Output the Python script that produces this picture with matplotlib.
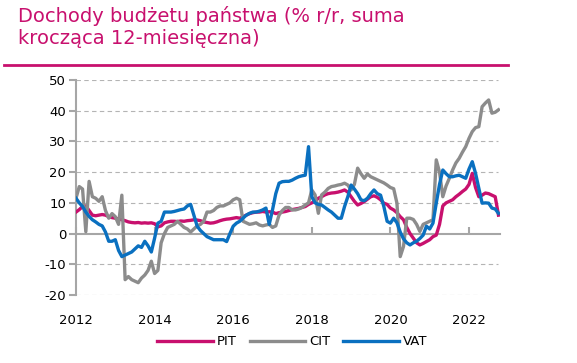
import numpy as np
import matplotlib.pyplot as plt

plt.rcParams['axes.unicode_minus'] = False

# monthly data, Jan 2012 - Oct 2022 (% y/y, 12-month rolling sum)
pit = [7.0, 7.8, 8.8, 9.0, 7.5, 6.0, 5.8, 6.0, 6.2, 6.0, 5.5, 5.2,
       5.0, 4.8, 4.5, 4.2, 3.8, 3.6, 3.5, 3.6, 3.4, 3.5, 3.4, 3.5,
       3.2, 2.2, 2.5, 3.5, 3.8, 4.0, 4.0, 3.9, 4.1, 4.0, 4.2, 4.3,
       4.5, 4.4, 4.2, 3.8, 3.6, 3.4, 3.5, 3.8, 4.2, 4.5, 4.7, 4.8,
       5.0, 5.2, 5.0, 5.5, 6.0, 6.5, 6.8, 7.0, 7.0, 7.2, 7.0, 7.1,
       7.0, 6.5, 6.8, 7.0, 7.2, 7.5, 7.8, 8.0, 8.2, 8.5, 8.8, 9.5,
       10.0, 10.6, 11.5, 12.0, 12.6, 13.0, 13.2, 13.3, 13.5, 13.8, 14.2, 13.5,
       12.0, 10.5, 9.3, 9.8, 10.4, 11.2, 12.0, 12.3, 11.8, 11.0, 9.9, 9.5,
       8.3, 7.7, 6.8, 5.5, 4.5, 2.0, 0.0, -1.5, -3.0, -3.7, -3.2, -2.6,
       -2.0, -1.0, -0.5, 3.0, 9.0, 10.0, 10.5, 11.0, 12.0, 12.8, 13.7, 14.5,
       16.0, 19.6, 15.0, 12.0, 12.5, 13.2, 13.0, 12.5, 12.0, 6.0]

cit = [11.5, 15.3, 14.5, 0.6, 17.0, 12.0, 11.5, 10.5, 12.0, 7.5, 5.0, 6.5,
       5.5, 3.0, 12.5, -15.0, -14.0, -15.0, -15.5, -16.0, -14.5, -13.5, -12.0, -9.0,
       -13.0, -12.0, -3.0, 0.0, 2.0, 2.5, 3.0, 4.0, 3.0, 2.0, 1.5, 0.5,
       1.5, 2.5, 3.0, 4.0, 7.0, 7.0, 7.5, 8.5, 9.0, 9.0, 9.5, 10.0,
       11.0, 11.5, 11.0, 4.0, 3.5, 3.0, 3.2, 3.5, 2.8, 2.5, 2.8, 3.0,
       2.0, 2.5, 6.0, 7.5, 8.5, 8.5, 7.7, 7.7, 8.0, 8.5, 9.3, 10.0,
       14.2, 12.6, 6.6, 12.6, 13.5, 14.7, 15.3, 15.5, 15.8, 16.0, 16.4, 15.8,
       14.2, 16.0, 21.3, 19.5, 18.0, 19.4, 18.5, 18.0, 17.5, 17.0, 16.5, 15.8,
       15.0, 14.6, 9.9, -7.5, -4.2, 5.0, 5.0, 4.6, 3.0, 0.7, 3.0, 3.5,
       4.0, 4.5, 24.0, 20.0, 12.0, 15.5, 18.0, 20.7, 23.0, 24.5, 26.5, 28.3,
       31.0, 33.2, 34.5, 34.8, 41.3, 42.5, 43.5, 39.2, 39.5, 40.3]

vat = [11.5, 10.0, 8.8, 7.0, 5.6, 4.5, 3.8, 3.0, 2.5, 0.5, -2.5, -2.5,
       -2.0, -5.5, -7.5, -7.0, -6.5, -6.0, -5.0, -4.0, -4.5, -2.5, -4.0, -6.0,
       -1.5, 3.4, 4.0, 7.0, 7.0, 7.0, 7.2, 7.5, 7.8, 8.0, 9.0, 9.5,
       6.0, 2.4, 1.0, 0.0, -1.0, -1.5, -2.0, -2.0, -2.0, -2.0, -2.6, 0.0,
       2.4, 3.4, 4.0, 5.0, 6.0, 6.6, 7.0, 7.0, 7.3, 7.7, 8.3, 3.0,
       7.7, 13.0, 16.4, 16.9, 17.0, 17.0, 17.4, 18.0, 18.5, 18.8, 19.0, 28.3,
       12.0, 10.0, 9.5, 9.3, 8.5, 7.7, 7.0, 6.0, 5.0, 5.0, 8.8, 12.0,
       15.8, 14.5, 13.0, 11.0, 10.7, 11.5, 13.0, 14.2, 13.0, 12.5, 8.8, 4.0,
       3.4, 5.0, 3.5, 0.5, -1.7, -3.0, -3.7, -3.0, -2.5, -1.6, -0.5, 2.4,
       1.5, 3.4, 9.9, 16.0, 20.7, 19.5, 18.5, 18.5, 18.8, 19.0, 18.5, 18.0,
       21.0, 23.4, 19.6, 14.7, 9.9, 10.0, 9.9, 8.3, 8.0, 6.6]

years = 2012 + np.arange(len(pit)) / 12
x_ticks = [2012, 2014, 2016, 2018, 2020, 2022]
y_ticks = [-20, -10, 0, 10, 20, 30, 40, 50]

PINK = '#c8106e'
GREY = '#8c8c8c'
BLUE = '#0a70c0'
AXIS = '#a6a6a6'

fig = plt.figure(figsize=(5.77, 3.63), dpi=100)
ax = fig.add_axes([76 / 577, 68 / 363, 424 / 577, 215 / 363])

ax.plot(years, pit, color=PINK, lw=2.4, label='PIT', zorder=3)
ax.plot(years, cit, color=GREY, lw=2.4, label='CIT', zorder=4)
ax.plot(years, vat, color=BLUE, lw=2.4, label='VAT', zorder=5)

ax.set_xlim(2012, 2012 + 424 / 39.3)
ax.set_ylim(-20, 50)
ax.set_yticks(y_ticks)
ax.set_xticks(x_ticks)
ax.set_xticklabels([str(y) for y in x_ticks])

for v in y_ticks:
    if v != 0:
        ax.axhline(v, color='#b4b4b4', lw=0.8, ls=(0, (4, 3)), xmax=0.995, zorder=1)

for s in ['top', 'right', 'bottom']:
    ax.spines[s].set_visible(False)
ax.spines['left'].set_color(AXIS)
ax.spines['left'].set_linewidth(1.5)
ax.tick_params(axis='y', length=5, width=1.5, color=AXIS, labelsize=9.5, pad=2)
ax.tick_params(axis='x', length=0, labelsize=9.5, pad=14)

# zero line with ticks pointing up
sec = ax.secondary_xaxis(20 / 70)
sec.set_xticks(x_ticks)
sec.set_xticklabels([''] * len(x_ticks))
sec.tick_params(axis='x', direction='in', length=5, width=1.5, color=AXIS)
sec.spines['bottom'].set_color(AXIS)
sec.spines['bottom'].set_linewidth(1.5)

fig.text(18 / 577, 1 - 6 / 363, 'Dochody budżetu państwa (% r/r, suma\nkrocząca 12-miesięczna)',
         color=PINK, fontsize=14, va='top', ha='left', linespacing=1.2)
fig.add_artist(plt.Line2D([4 / 577, 508 / 577], [1 - 65 / 363] * 2, color=PINK, lw=2))

ax.legend(loc='center', bbox_to_anchor=(0.51, -0.218),
          ncol=3, frameon=False, fontsize=9.5, handlelength=4.2, handletextpad=0.3,
          columnspacing=1.0)

fig.savefig('out.png', dpi=100)
